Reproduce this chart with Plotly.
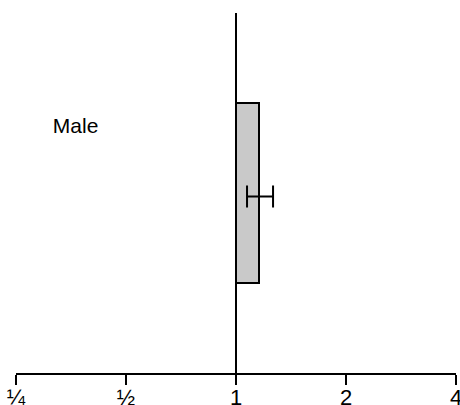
import numpy as np
import plotly.graph_objects as go

# Hazard ratio for the single subgroup, with its 95% confidence interval
groups = ["Male"]
hazard_ratio = [1.156]
ci_low = [1.072]
ci_high = [1.263]
row_pos = [0.5]          # vertical position of each subgroup row
label_pos = [0.68]       # vertical position of the subgroup text
label_x = [0.364]        # horizontal position of the subgroup text (ratio scale)

tick_vals = [0.25, 0.5, 1, 2, 4]
tick_text = ["¼", "½", "1", "2", "4"]

fig = go.Figure()

# Shaded bar from the null value (1) to the point estimate
fig.add_trace(go.Bar(
    orientation="h",
    y=row_pos,
    base=[1] * len(hazard_ratio),
    x=[hr - 1 for hr in hazard_ratio],
    width=0.5,
    marker=dict(color="#c9c9c9", line=dict(color="black", width=2)),
    hoverinfo="skip",
    showlegend=False,
))

# Confidence interval whiskers
fig.add_trace(go.Scatter(
    x=hazard_ratio,
    y=[p - 0.01 for p in row_pos],
    mode="markers",
    marker=dict(size=1, color="rgba(0,0,0,0)"),
    error_x=dict(
        type="data",
        symmetric=False,
        array=[h - m for h, m in zip(ci_high, hazard_ratio)],
        arrayminus=[m - l for m, l in zip(hazard_ratio, ci_low)],
        color="black",
        thickness=2,
        width=11,
    ),
    showlegend=False,
    hoverinfo="skip",
))

# Subgroup labels
fig.add_trace(go.Scatter(
    x=label_x,
    y=label_pos,
    mode="text",
    text=groups,
    textfont=dict(family="Liberation Sans, Arial, sans-serif", size=21, color="black"),
    showlegend=False,
    hoverinfo="skip",
))

# Reference line at a ratio of 1
fig.add_shape(type="line", xref="x", yref="paper", x0=1, x1=1, y0=0, y1=1,
              line=dict(color="black", width=2))

fig.update_layout(
    width=460,
    height=405,
    margin=dict(l=16, r=4, t=13, b=32),
    paper_bgcolor="white",
    plot_bgcolor="white",
    bargap=0,
    xaxis=dict(
        type="log",
        range=[np.log10(0.25), np.log10(4)],
        tickvals=tick_vals,
        ticktext=tick_text,
        ticks="outside",
        ticklen=10,
        tickwidth=2,
        tickcolor="black",
        showline=True,
        linecolor="black",
        linewidth=2,
        showgrid=False,
        zeroline=False,
        automargin=False,
        ticklabeloverflow="allow",
        ticklabelstandoff=-6,
        tickfont=dict(family="Liberation Sans, Arial, sans-serif", size=22, color="black"),
    ),
    yaxis=dict(
        range=[0, 1],
        visible=False,
        showgrid=False,
        zeroline=False,
    ),
)

fig.write_html("out.html")
